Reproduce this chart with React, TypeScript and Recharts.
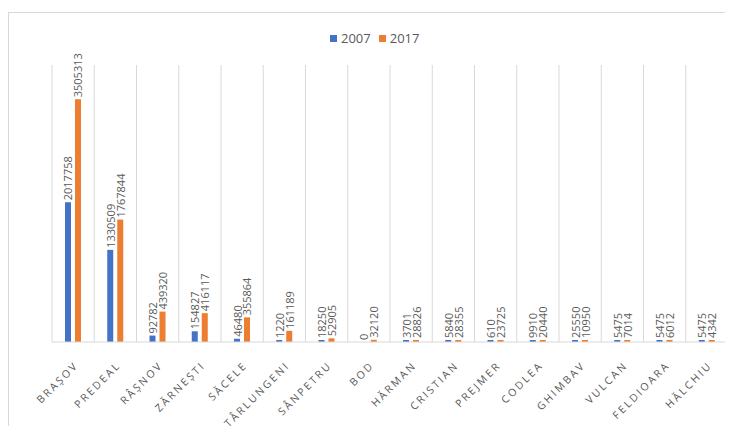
import React from 'react';
import { BarChart, Bar, XAxis, YAxis, CartesianGrid, LabelList } from 'recharts';

const localitati = [
  'BRAȘOV', 'PREDEAL', 'RÂȘNOV', 'ZĂRNEȘTI', 'SĂCELE', 'TÂRLUNGENI', 'SÂNPETRU', 'BOD',
  'HĂRMAN', 'CRISTIAN', 'PREJMER', 'CODLEA', 'GHIMBAV', 'VULCAN', 'FELDIOARA', 'HĂLCHIU',
];
const valori2007 = [
  2017758, 1330509, 92782, 154827, 46480, 1220, 18250, 0,
  3701, 5840, 610, 9910, 25550, 5475, 5475, 5475,
];
const valori2017 = [
  3505313, 1767844, 439320, 416117, 355864, 161189, 52905, 32120,
  28826, 28355, 23725, 20440, 10950, 7014, 6012, 4342,
];

const BLUE = '#4472C4';
const ORANGE = '#ED7D31';
const GRID = '#d9d9d9';
const TEXT = '#595959';

const data = localitati.map((name, i) => ({ name, y2007: valori2007[i], y2017: valori2017[i] }));

// Excel shows tiny values as a sliver; zero keeps an invisible rect so its label still draws
const minSize = (v: number) => (v > 0 ? 2 : 0.01);

const ValueLabel = (props: any) => {
  const { x, y, width, value } = props;
  const cx = x + width / 2;
  const sy = y - 2;
  return (
    <text
      x={cx}
      y={sy}
      transform={`rotate(-90 ${cx} ${sy})`}
      textAnchor="start"
      dominantBaseline="central"
      fontSize={11}
      fill={TEXT}
      fontFamily="'Open Sans', sans-serif"
    >
      {value}
    </text>
  );
};

const CategoryTick = (props: any) => {
  const { x, y, payload } = props;
  const tx = x + 6;
  const ty = y + 16;
  return (
    <text
      x={tx}
      y={ty}
      transform={`rotate(-45 ${tx} ${ty})`}
      textAnchor="end"
      fontSize={10.5}
      letterSpacing={2.3}
      fill={TEXT}
      fontFamily="'Open Sans', sans-serif"
    >
      {payload.value}
    </text>
  );
};

const App = () => {
  return (
    <div style={{ position: 'relative', width: 733, height: 434, margin: -8, overflow: 'hidden', background: '#fff' }}>
      {/* chart area frame */}
      <div style={{ position: 'absolute', left: 8, top: 12, width: 760, height: 460, border: `1px solid ${GRID}` }} />

      {/* Legend */}
      <div
        style={{
          position: 'absolute', top: 29, left: 330, display: 'flex', alignItems: 'center',
          fontFamily: "'Open Sans', sans-serif", fontSize: 13, color: TEXT,
        }}
      >
        <span style={{ width: 7, height: 7, background: BLUE, marginRight: 4 }} />
        <span style={{ marginRight: 8 }}>2007</span>
        <span style={{ width: 7, height: 7, background: ORANGE, marginRight: 4 }} />
        <span>2017</span>
      </div>

      <BarChart
        width={733}
        height={434}
        data={data}
        margin={{ top: 65, right: 5, bottom: 12, left: 52 }}
        barSize={6}
        barGap={4}
        style={{ position: 'absolute', left: 0, top: 0 }}
      >
        <CartesianGrid
          horizontal={false}
          stroke={GRID}
          verticalCoordinatesGenerator={({ offset }: any) =>
            Array.from({ length: localitati.length + 1 }, (_, i) => offset.left + (i * offset.width) / localitati.length)
          }
        />
        <XAxis
          dataKey="name"
          interval={0}
          height={80}
          tickLine={false}
          axisLine={{ stroke: GRID }}
          tick={<CategoryTick />}
        />
        <YAxis hide domain={[0, 4000000]} />
        <Bar dataKey="y2007" fill={BLUE} isAnimationActive={false} minPointSize={minSize}>
          <LabelList dataKey="y2007" content={<ValueLabel />} />
        </Bar>
        <Bar dataKey="y2017" fill={ORANGE} isAnimationActive={false} minPointSize={minSize}>
          <LabelList dataKey="y2017" content={<ValueLabel />} />
        </Bar>
      </BarChart>
    </div>
  );
};

export default App;
